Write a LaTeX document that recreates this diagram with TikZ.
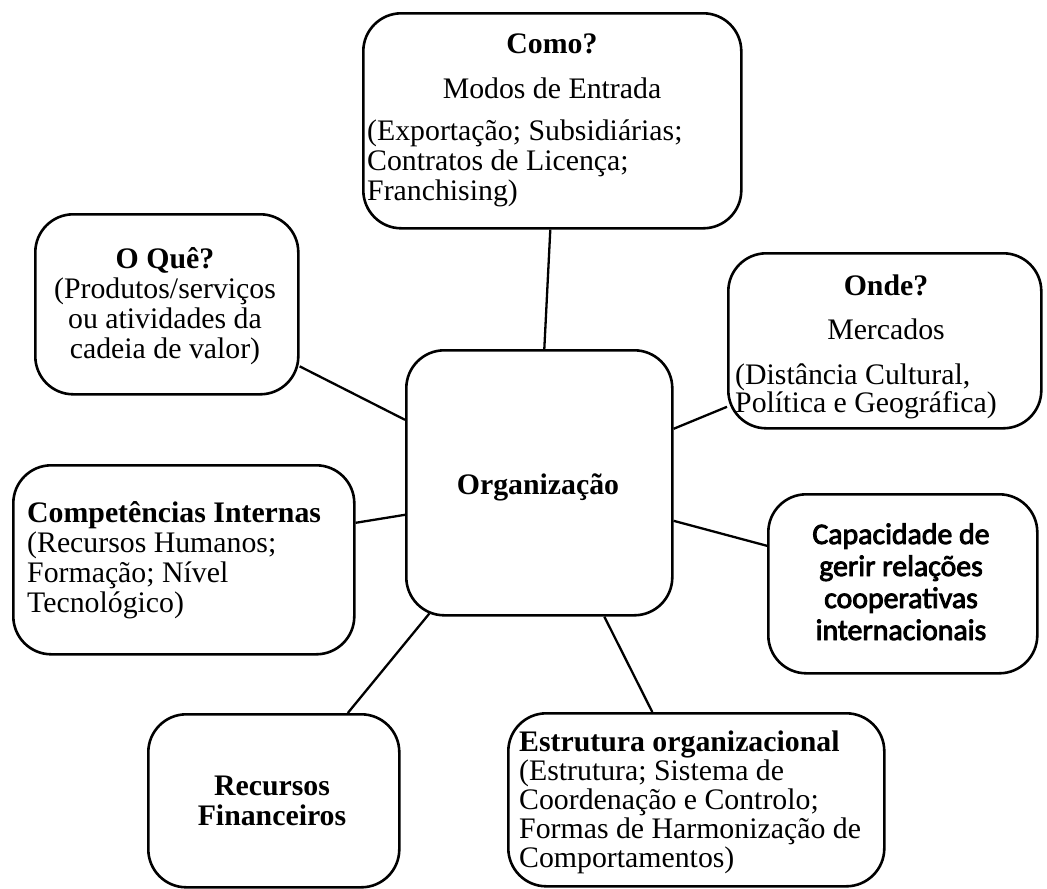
\documentclass[tikz,border=0pt]{standalone}
\usepackage{fontspec}
\setmainfont{Liberation Serif}
\newfontfamily\calibribold{Carlito}[FakeBold=3]
\usetikzlibrary{calc}
\begin{document}
\begin{tikzpicture}[x=1pt,y=-1pt,
  box/.style={draw, line width=2.6pt, rounded corners=38pt, inner sep=0pt, anchor=north west},
  link/.style={line width=2.3pt},
  txt/.style={inner sep=0pt, anchor=base, font=\fontsize{29.8}{30}\selectfont},
  ltxt/.style={txt, anchor=base west},
  ctxt/.style={inner sep=0pt, anchor=base, font=\calibribold\fontsize{29.8}{30}\selectfont}]
\useasboundingbox (0,0) rectangle (1047,889);
% boxes
\node[box, minimum width=378pt, minimum height=215pt] (como) at (362,12) {};
\node[box, minimum width=263pt, minimum height=180pt] (oque) at (34,213) {};
\node[box, minimum width=313pt, minimum height=175pt] (onde) at (727,252) {};
\node[box, minimum width=266pt, minimum height=265pt] (org) at (405,349) {};
\node[box, minimum width=341pt, minimum height=189pt] (comp) at (12,464) {};
\node[box, minimum width=269pt, minimum height=179pt] (cap) at (767,493) {};
\node[box, minimum width=251pt, minimum height=173pt] (rec) at (147,713) {};
\node[box, minimum width=376pt, minimum height=173pt] (estr) at (507,712) {};
% links
\draw[link] ($(como.south)+(-2,0)$) -- ($(org.north)+(5,0)$);
\draw[link] ($(oque.east)+(0,62)$) -- ($(org.west)+(0,-63)$);
\draw[link] ($(onde.west)+(0,66)$) -- ($(org.east)+(0,-54)$);
\draw[link] ($(comp.east)+(0,-37)$) -- ($(org.west)+(0,32)$);
\draw[link] ($(org.east)+(0,38)$) -- ($(cap.west)+(0,-38)$);
\draw[link] ($(org.south)+(-110,-3)$) -- ($(rec.north)+(74,0)$);
\draw[link] ($(org.south)+(65,0)$) -- ($(estr.north)+(-44,0)$);
% Como
\node[txt] (c1) at (552,53) {\textbf{Como?}};
\node[txt] (c2) at (552,98) {Modos de Entrada};
\node[ltxt] (c3) at (367,140) {(Exportação; Subsidiárias;};
\node[ltxt] (c4) at (367,170) {Contratos de Licença;};
\node[ltxt] (c5) at (367,200) {Franchising)};
% O Que
\node[txt] (q1) at (165,268) {\textbf{O Quê?}};
\node[txt] (q2) at (165,298) {(Produtos/serviços};
\node[txt] (q3) at (165,328) {ou atividades da};
\node[txt] (q4) at (165,358) {cadeia de valor)};
% Onde
\node[txt] (o1) at (886,295) {\textbf{Onde?}};
\node[txt] (o2) at (886,339) {Mercados};
\node[ltxt] (o3) at (735,384) {(Distância Cultural,};
\node[ltxt] (o4) at (735,412) {Política e Geográfica)};
% Org
\node[txt] (g1) at (538,494) {\textbf{Organização}};
% Competencias
\node[ltxt] (k1) at (27,522) {\textbf{Competências Internas}};
\node[ltxt] (k2) at (27,552) {(Recursos Humanos;};
\node[ltxt] (k3) at (27,582) {Formação; Nível};
\node[ltxt] (k4) at (27,612) {Tecnológico)};
% Capacidade
\node[ctxt] (p1) at (901,544) {Capacidade de};
\node[ctxt] (p2) at (901,576) {gerir relações};
\node[ctxt] (p3) at (901,608) {cooperativas};
\node[ctxt] (p4) at (901,640) {internacionais};
% Recursos
\node[txt] (r1) at (272,795) {\textbf{Recursos}};
\node[txt] (r2) at (272,825) {\textbf{Financeiros}};
% Estrutura
\node[ltxt] (e1) at (519,751) {\textbf{Estrutura organizacional}};
\node[ltxt] (e2) at (519,780) {(Estrutura; Sistema de};
\node[ltxt] (e3) at (519,809) {Coordenação e Controlo;};
\node[ltxt] (e4) at (519,838) {Formas de Harmonização de};
\node[ltxt] (e5) at (519,867) {Comportamentos)};
\end{tikzpicture}
\end{document}
